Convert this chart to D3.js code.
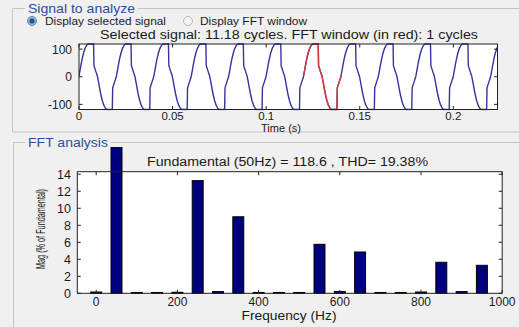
<!DOCTYPE html>
<html><head><meta charset="utf-8">
<script src="https://cdn.jsdelivr.net/npm/d3@7"></script>
<style>
body{margin:0;background:#f0f0f0;}
svg{display:block;font-family:"Liberation Sans",Arial,sans-serif;}
</style>
</head><body>
<svg id="c" width="519" height="327"></svg>
<script>
// ---- data ----
const fundamentalHz = 50;
const cycleCount = 11.18;
// one digitized cycle of the (periodic) signal: phase within the cycle, value
const cyclePhase = [0.00, 0.03, 0.06, 0.09, 0.12, 0.16, 0.20, 0.24, 0.39, 0.40, 0.46, 0.49, 0.53, 0.56, 0.59, 0.62, 0.66, 0.70, 0.74, 0.89, 0.90, 0.96, 0.99];
const cycleValue = [3, 25, 48, 68, 85, 102, 113, 118.6, 118.6, 40, 15, 3, -25, -48, -68, -85, -102, -113, -118.6, -118.6, -40, -15, -3];
const fftWindowStart = 0.12;   // s
const fftWindowCycles = 1;
const timeTicks = [0, 0.05, 0.1, 0.15, 0.2];
const timeTickLabels = ["0", "0.05", "0.1", "0.15", "0.2"];
const signalTicks = [-100, 0, 100];
const signalLimit = 118.6;

const harmonicFreqs = [0, 50, 100, 150, 200, 250, 300, 350, 400, 450, 500, 550, 600, 650, 700, 750, 800, 850, 900, 950];
const harmonicMags  = [0.15, 100, 0.1, 0.1, 0.12, 13.25, 0.2, 9.0, 0.1, 0.1, 0.1, 5.76, 0.2, 4.86, 0.1, 0.1, 0.15, 3.65, 0.2, 3.29];
const freqTicks = [0, 200, 400, 600, 800, 1000];
const magTicks = [0, 2, 4, 6, 8, 10, 12, 14];
const magLimit = 14.3;

const signalTitle = "Selected signal: 11.18 cycles. FFT window (in red): 1 cycles";
const fftTitle = "Fundamental (50Hz) = 118.6 , THD= 19.38%";

// ---- drawing ----
const svg = d3.select("#c");
const ink = "#1a1a1a";
const panelBlue = "#2b4ca3";

function groupBox(x, y, w, h, title, tx, tw) {
  const g = svg.append("g");
  g.append("path")
    .attr("d", `M${tx - 3},${y} H${x} V${y + h} H${x + w} V${y} H${tx + tw + 3}`)
    .attr("fill", "none").attr("stroke", "#c4c4c4").attr("stroke-width", 1);
  g.append("text").attr("x", tx).attr("y", y + 4.5)
    .attr("font-size", 13.5).attr("fill", panelBlue)
    .attr("textLength", tw).attr("lengthAdjust", "spacingAndGlyphs")
    .text(title);
}
groupBox(12.5, 8.5, 520, 123.5, "Signal to analyze", 28, 107);
groupBox(13.5, 142.5, 520, 200, "FFT analysis", 28, 80);

// radio buttons
svg.append("circle").attr("cx", 32).attr("cy", 21).attr("r", 4.5).attr("fill", "#8fb0d8").attr("stroke", "#6f8fb8");
svg.append("circle").attr("cx", 32).attr("cy", 21).attr("r", 2.5).attr("fill", "#23508f");
svg.append("text").attr("x", 45).attr("y", 24.5).attr("font-size", 11).attr("fill", ink)
  .attr("textLength", 121).attr("lengthAdjust", "spacingAndGlyphs").text("Display selected signal");
svg.append("circle").attr("cx", 188).attr("cy", 21).attr("r", 4.5).attr("fill", "#f4f4f4").attr("stroke", "#b8b8b8");
svg.append("text").attr("x", 200).attr("y", 24.5).attr("font-size", 11).attr("fill", ink)
  .attr("textLength", 107).attr("lengthAdjust", "spacingAndGlyphs").text("Display FFT window");

// ---- top plot ----
const tEnd = cycleCount / fundamentalHz;
const xT = d3.scaleLinear().domain([0, tEnd]).range([79, 497.5]);
const yS = d3.scaleLinear().domain([-signalLimit, signalLimit]).range([109.5, 44]);

svg.append("text").attr("x", 100).attr("y", 38.5).attr("font-size", 12.5).attr("fill", ink)
  .attr("textLength", 378).attr("lengthAdjust", "spacingAndGlyphs").text(signalTitle);

svg.append("rect").attr("x", xT(0)).attr("y", yS(signalLimit))
  .attr("width", xT(tEnd) - xT(0)).attr("height", yS(-signalLimit) - yS(signalLimit))
  .attr("fill", "#ffffff");

svg.append("clipPath").attr("id", "clipTop").append("rect")
  .attr("x", xT(0)).attr("y", yS(signalLimit) - 1)
  .attr("width", xT(tEnd) - xT(0)).attr("height", yS(-signalLimit) - yS(signalLimit) + 2);

const pts = [];
for (let k = 0; k <= Math.ceil(cycleCount); k++) {
  for (let i = 0; i < cyclePhase.length; i++) {
    const t = (k + cyclePhase[i]) / fundamentalHz;
    pts.push([t, cycleValue[i]]);
    if (t > tEnd) break;
  }
  if ((k + 1) / fundamentalHz > tEnd + 0.02) break;
}
const line = d3.line().x(d => xT(d[0])).y(d => yS(d[1]));
const wEnd = fftWindowStart + fftWindowCycles / fundamentalHz;
svg.append("path").datum(pts).attr("d", line).attr("clip-path", "url(#clipTop)")
  .attr("fill", "none").attr("stroke", "#34349f").attr("stroke-width", 1.4);
svg.append("path").datum(pts.filter(d => d[0] >= fftWindowStart - 1e-9 && d[0] <= wEnd + 1e-9))
  .attr("d", line).attr("clip-path", "url(#clipTop)")
  .attr("fill", "none").attr("stroke", "#d83a3a").attr("stroke-width", 1.4);

const topG = svg.append("g");
topG.append("rect").attr("x", xT(0)).attr("y", yS(signalLimit))
  .attr("width", xT(tEnd) - xT(0)).attr("height", yS(-signalLimit) - yS(signalLimit))
  .attr("fill", "none").attr("stroke", "#222").attr("stroke-width", 1);
timeTicks.forEach((t, i) => {
  topG.append("line").attr("x1", xT(t)).attr("x2", xT(t)).attr("y1", yS(-signalLimit)).attr("y2", yS(-signalLimit) - 3.5).attr("stroke", "#222");
  topG.append("line").attr("x1", xT(t)).attr("x2", xT(t)).attr("y1", yS(signalLimit)).attr("y2", yS(signalLimit) + 3.5).attr("stroke", "#222");
  topG.append("text").attr("x", xT(t)).attr("y", 120).attr("text-anchor", "middle")
    .attr("font-size", 11.5).attr("fill", ink).text(timeTickLabels[i]);
});
signalTicks.forEach(v => {
  topG.append("line").attr("x1", xT(0)).attr("x2", xT(0) + 3.5).attr("y1", yS(v)).attr("y2", yS(v)).attr("stroke", "#222");
  topG.append("line").attr("x1", xT(tEnd)).attr("x2", xT(tEnd) - 3.5).attr("y1", yS(v)).attr("y2", yS(v)).attr("stroke", "#222");
  topG.append("text").attr("x", 72).attr("y", yS(v) + 4.5).attr("text-anchor", "end")
    .attr("font-size", 12).attr("fill", ink).text(String(v));
});
svg.append("text").attr("x", 281).attr("y", 131.5).attr("text-anchor", "middle")
  .attr("font-size", 11).attr("fill", ink)
  .attr("textLength", 40).attr("lengthAdjust", "spacingAndGlyphs").text("Time (s)");

// ---- bottom plot ----
const xF = d3.scaleLinear().domain([0, 1000]).range([96.2, 502.2]);
const yM = d3.scaleLinear().domain([0, magLimit]).range([293.3, 171.7]);
const left = 77.3;

svg.append("text").attr("x", 147).attr("y", 166).attr("font-size", 12.5).attr("fill", ink)
  .attr("textLength", 281).attr("lengthAdjust", "spacingAndGlyphs").text(fftTitle);

svg.append("rect").attr("x", left).attr("y", yM(magLimit))
  .attr("width", xF(1000) - left).attr("height", yM(0) - yM(magLimit)).attr("fill", "#ffffff");

svg.append("clipPath").attr("id", "clipBars").append("rect")
  .attr("x", left).attr("y", 147).attr("width", 440).attr("height", yM(0) - 147 + 1);

const barW = 27;
svg.append("g").attr("clip-path", "url(#clipBars)").selectAll("rect").data(harmonicFreqs).join("rect")
  .attr("x", (f) => xF(f - barW / 2))
  .attr("y", (f, i) => yM(harmonicMags[i]))
  .attr("width", xF(barW) - xF(0))
  .attr("height", (f, i) => yM(0) - yM(harmonicMags[i]))
  .attr("fill", "#00007f").attr("stroke", "#000").attr("stroke-width", 1);

const botG = svg.append("g");
botG.append("path")
  .attr("d", `M${left},${yM(magLimit)} H${xF(1000)} V${yM(0)} H${left} Z`)
  .attr("fill", "none").attr("stroke", "#222");
magTicks.forEach(v => {
  botG.append("line").attr("x1", left).attr("x2", left + 3.5).attr("y1", yM(v)).attr("y2", yM(v)).attr("stroke", "#222");
  botG.append("line").attr("x1", xF(1000)).attr("x2", xF(1000) - 3.5).attr("y1", yM(v)).attr("y2", yM(v)).attr("stroke", "#222");
  botG.append("text").attr("x", 71).attr("y", yM(v) + 4.5).attr("text-anchor", "end")
    .attr("font-size", 12.5).attr("fill", ink).text(String(v));
});
freqTicks.forEach(f => {
  botG.append("line").attr("x1", xF(f)).attr("x2", xF(f)).attr("y1", yM(0)).attr("y2", yM(0) - 3.5).attr("stroke", "#222");
  botG.append("line").attr("x1", xF(f)).attr("x2", xF(f)).attr("y1", yM(magLimit)).attr("y2", yM(magLimit) + 3.5).attr("stroke", "#222");
  botG.append("text").attr("x", xF(f)).attr("y", 306).attr("text-anchor", "middle")
    .attr("font-size", 12).attr("fill", ink).text(String(f));
});
svg.append("text").attr("x", 289).attr("y", 319.5).attr("text-anchor", "middle")
  .attr("font-size", 12).attr("fill", ink)
  .attr("textLength", 95).attr("lengthAdjust", "spacingAndGlyphs").text("Frequency (Hz)");
svg.append("text").attr("transform", "translate(45,229) rotate(-90) scale(0.56,1)").attr("text-anchor", "middle")
  .attr("font-size", 13).attr("fill", ink).text("Mag (% of Fundamental)");
</script>
</body></html>
